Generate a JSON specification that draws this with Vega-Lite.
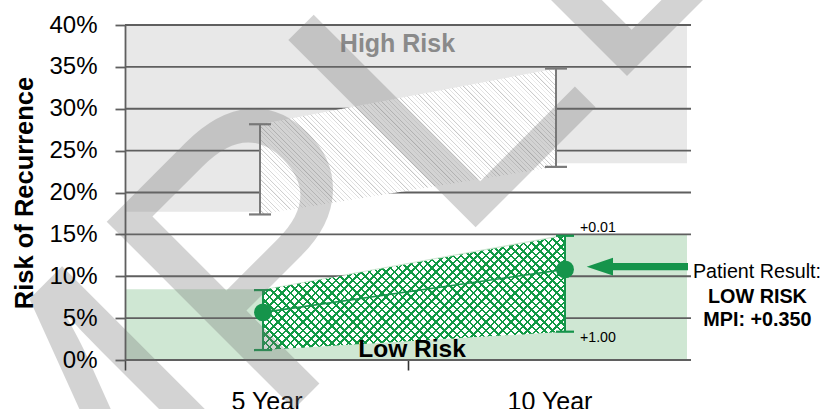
{
"$schema": "https://vega.github.io/schema/vega-lite/v6.json",
"width": 566,
"height": 335,
"autosize": {"type": "none"},
"padding": {"left": 125, "top": 25, "right": 133, "bottom": 49},
"background": "white",
"config": {"view": {"stroke": null}, "font": "Liberation Sans", "axisY": {"grid": false}},
"datasets": {
"grayBand": [{"t": 2.7196, "lo": 17.7, "hi": 40}, {"t": 5, "lo": 17.7, "hi": 40}, {"t": 10, "lo": 23.5, "hi": 40}, {"t": 12.213, "lo": 23.5, "hi": 40}],
"greenBand": [{"t": 2.7152, "lo": 0, "hi": 8.44}, {"t": 5, "lo": 0, "hi": 8.44}, {"t": 10, "lo": 0, "hi": 15}, {"t": 12.02, "lo": 0, "hi": 15}],
"grid": [{"g": 0}, {"g": 5}, {"g": 10}, {"g": 15}, {"g": 20}, {"g": 25}, {"g": 30}, {"g": 35}, {"g": 40}],
"gray": [{"t": 5, "lo": 17.38, "hi": 28.15}, {"t": 10, "lo": 23.06, "hi": 34.8}],
"green": [{"t": 5, "lo": 1.19, "hi": 8.35, "mid": 5.69}, {"t": 10, "lo": 3.38, "hi": 14.83, "mid": 10.82}],
"notes": [
{"label": "High Risk", "x": 7.314, "y": 36.78},
{"label": "Low Risk", "x": 7.571, "y": 0.36},
{"label": "Patient Result:", "x": 12.535, "y": 9.79},
{"label": "LOW RISK", "x": 13.674, "y": 6.84},
{"label": "MPI: +0.350", "x": 13.674, "y": 4.06},
{"label": "+0.01", "x": 10.539, "y": 15.25},
{"label": "+1.00", "x": 10.539, "y": 2.15}
],
"arrow": [{"head": 10.889, "from": 11.0, "to": 12.447, "y": 11.14}],
"wm": [{"label": "SAMPLE", "x": 4.426, "y": -13.01}]
},
"layer": [
{"data": {"name": "grayBand"}, "mark": {"type": "area", "color": "#e8e8e8", "opacity": 1, "orient": "vertical"},
 "encoding": {"x": {"field": "t", "type": "quantitative", "scale": {"domain": [2.7196, 12.2804], "nice": false, "zero": false}, "axis": null},
 "y": {"field": "hi", "type": "quantitative", "scale": {"domain": [0, 40], "nice": false},
 "axis": {"values": [0, 5, 10, 15, 20, 25, 30, 35, 40], "labelExpr": "datum.value + '%'", "labelFontSize": 24, "labelColor": "#000", "labelPadding": 18, "tickSize": 10, "tickColor": "#5f5f5f", "tickWidth": 1.8, "domainColor": "#5f5f5f", "domainWidth": 1.8, "grid": false, "title": "Risk of Recurrence", "titleFontSize": 25.5, "titleFontWeight": "bold", "titleColor": "#000", "titlePadding": 11.5, "zindex": 1}},
 "y2": {"field": "lo"}}},
{"data": {"name": "greenBand"}, "mark": {"type": "area", "color": "#cfe7d3", "opacity": 1, "orient": "vertical"},
 "encoding": {"x": {"field": "t", "type": "quantitative", "scale": {"domain": [2.7152, 12.0861], "nice": false, "zero": false}, "axis": null},
 "y": {"field": "hi", "type": "quantitative", "scale": {"domain": [0, 40], "nice": false}}, "y2": {"field": "lo"}}},
{"data": {"name": "grid"}, "mark": {"type": "rule", "color": "#5f5f5f", "strokeWidth": 1.8},
 "encoding": {"y": {"field": "g", "type": "quantitative", "scale": {"domain": [0, 40], "nice": false}}}},
{"data": {"name": "gray"}, "mark": {"type": "area", "opacity": 1, "orient": "vertical", "fill": {"gradient": "linear", "x1": 0, "y1": 1, "x2": 1.2011, "y2": 0.408, "stops": [
{"offset":0,"color":"#c4c4c4"},{"offset":0.003,"color":"#fff"},{"offset":0.01,"color":"#fff"},
{"offset":0.01,"color":"#c4c4c4"},{"offset":0.013,"color":"#fff"},{"offset":0.02,"color":"#fff"},
{"offset":0.02,"color":"#c4c4c4"},{"offset":0.023,"color":"#fff"},{"offset":0.03,"color":"#fff"},
{"offset":0.03,"color":"#c4c4c4"},{"offset":0.033,"color":"#fff"},{"offset":0.04,"color":"#fff"},
{"offset":0.04,"color":"#c4c4c4"},{"offset":0.043,"color":"#fff"},{"offset":0.05,"color":"#fff"},
{"offset":0.05,"color":"#c4c4c4"},{"offset":0.053,"color":"#fff"},{"offset":0.06,"color":"#fff"},
{"offset":0.06,"color":"#c4c4c4"},{"offset":0.063,"color":"#fff"},{"offset":0.07,"color":"#fff"},
{"offset":0.07,"color":"#c4c4c4"},{"offset":0.073,"color":"#fff"},{"offset":0.08,"color":"#fff"},
{"offset":0.08,"color":"#c4c4c4"},{"offset":0.083,"color":"#fff"},{"offset":0.09,"color":"#fff"},
{"offset":0.09,"color":"#c4c4c4"},{"offset":0.093,"color":"#fff"},{"offset":0.1,"color":"#fff"},
{"offset":0.1,"color":"#c4c4c4"},{"offset":0.103,"color":"#fff"},{"offset":0.11,"color":"#fff"},
{"offset":0.11,"color":"#c4c4c4"},{"offset":0.113,"color":"#fff"},{"offset":0.12,"color":"#fff"},
{"offset":0.12,"color":"#c4c4c4"},{"offset":0.123,"color":"#fff"},{"offset":0.13,"color":"#fff"},
{"offset":0.13,"color":"#c4c4c4"},{"offset":0.133,"color":"#fff"},{"offset":0.14,"color":"#fff"},
{"offset":0.14,"color":"#c4c4c4"},{"offset":0.143,"color":"#fff"},{"offset":0.15,"color":"#fff"},
{"offset":0.15,"color":"#c4c4c4"},{"offset":0.153,"color":"#fff"},{"offset":0.16,"color":"#fff"},
{"offset":0.16,"color":"#c4c4c4"},{"offset":0.163,"color":"#fff"},{"offset":0.17,"color":"#fff"},
{"offset":0.17,"color":"#c4c4c4"},{"offset":0.173,"color":"#fff"},{"offset":0.18,"color":"#fff"},
{"offset":0.18,"color":"#c4c4c4"},{"offset":0.183,"color":"#fff"},{"offset":0.19,"color":"#fff"},
{"offset":0.19,"color":"#c4c4c4"},{"offset":0.193,"color":"#fff"},{"offset":0.2,"color":"#fff"},
{"offset":0.2,"color":"#c4c4c4"},{"offset":0.203,"color":"#fff"},{"offset":0.21,"color":"#fff"},
{"offset":0.21,"color":"#c4c4c4"},{"offset":0.213,"color":"#fff"},{"offset":0.22,"color":"#fff"},
{"offset":0.22,"color":"#c4c4c4"},{"offset":0.223,"color":"#fff"},{"offset":0.23,"color":"#fff"},
{"offset":0.23,"color":"#c4c4c4"},{"offset":0.233,"color":"#fff"},{"offset":0.24,"color":"#fff"},
{"offset":0.24,"color":"#c4c4c4"},{"offset":0.243,"color":"#fff"},{"offset":0.25,"color":"#fff"},
{"offset":0.25,"color":"#c4c4c4"},{"offset":0.253,"color":"#fff"},{"offset":0.26,"color":"#fff"},
{"offset":0.26,"color":"#c4c4c4"},{"offset":0.263,"color":"#fff"},{"offset":0.27,"color":"#fff"},
{"offset":0.27,"color":"#c4c4c4"},{"offset":0.273,"color":"#fff"},{"offset":0.28,"color":"#fff"},
{"offset":0.28,"color":"#c4c4c4"},{"offset":0.283,"color":"#fff"},{"offset":0.29,"color":"#fff"},
{"offset":0.29,"color":"#c4c4c4"},{"offset":0.293,"color":"#fff"},{"offset":0.3,"color":"#fff"},
{"offset":0.3,"color":"#c4c4c4"},{"offset":0.303,"color":"#fff"},{"offset":0.31,"color":"#fff"},
{"offset":0.31,"color":"#c4c4c4"},{"offset":0.313,"color":"#fff"},{"offset":0.32,"color":"#fff"},
{"offset":0.32,"color":"#c4c4c4"},{"offset":0.323,"color":"#fff"},{"offset":0.33,"color":"#fff"},
{"offset":0.33,"color":"#c4c4c4"},{"offset":0.333,"color":"#fff"},{"offset":0.34,"color":"#fff"},
{"offset":0.34,"color":"#c4c4c4"},{"offset":0.343,"color":"#fff"},{"offset":0.35,"color":"#fff"},
{"offset":0.35,"color":"#c4c4c4"},{"offset":0.353,"color":"#fff"},{"offset":0.36,"color":"#fff"},
{"offset":0.36,"color":"#c4c4c4"},{"offset":0.363,"color":"#fff"},{"offset":0.37,"color":"#fff"},
{"offset":0.37,"color":"#c4c4c4"},{"offset":0.373,"color":"#fff"},{"offset":0.38,"color":"#fff"},
{"offset":0.38,"color":"#c4c4c4"},{"offset":0.383,"color":"#fff"},{"offset":0.39,"color":"#fff"},
{"offset":0.39,"color":"#c4c4c4"},{"offset":0.393,"color":"#fff"},{"offset":0.4,"color":"#fff"},
{"offset":0.4,"color":"#c4c4c4"},{"offset":0.403,"color":"#fff"},{"offset":0.41,"color":"#fff"},
{"offset":0.41,"color":"#c4c4c4"},{"offset":0.413,"color":"#fff"},{"offset":0.42,"color":"#fff"},
{"offset":0.42,"color":"#c4c4c4"},{"offset":0.423,"color":"#fff"},{"offset":0.43,"color":"#fff"},
{"offset":0.43,"color":"#c4c4c4"},{"offset":0.433,"color":"#fff"},{"offset":0.44,"color":"#fff"},
{"offset":0.44,"color":"#c4c4c4"},{"offset":0.443,"color":"#fff"},{"offset":0.45,"color":"#fff"},
{"offset":0.45,"color":"#c4c4c4"},{"offset":0.453,"color":"#fff"},{"offset":0.46,"color":"#fff"},
{"offset":0.46,"color":"#c4c4c4"},{"offset":0.463,"color":"#fff"},{"offset":0.47,"color":"#fff"},
{"offset":0.47,"color":"#c4c4c4"},{"offset":0.473,"color":"#fff"},{"offset":0.48,"color":"#fff"},
{"offset":0.48,"color":"#c4c4c4"},{"offset":0.483,"color":"#fff"},{"offset":0.49,"color":"#fff"},
{"offset":0.49,"color":"#c4c4c4"},{"offset":0.493,"color":"#fff"},{"offset":0.5,"color":"#fff"},
{"offset":0.5,"color":"#c4c4c4"},{"offset":0.503,"color":"#fff"},{"offset":0.51,"color":"#fff"},
{"offset":0.51,"color":"#c4c4c4"},{"offset":0.513,"color":"#fff"},{"offset":0.52,"color":"#fff"},
{"offset":0.52,"color":"#c4c4c4"},{"offset":0.523,"color":"#fff"},{"offset":0.53,"color":"#fff"},
{"offset":0.53,"color":"#c4c4c4"},{"offset":0.533,"color":"#fff"},{"offset":0.54,"color":"#fff"},
{"offset":0.54,"color":"#c4c4c4"},{"offset":0.543,"color":"#fff"},{"offset":0.55,"color":"#fff"},
{"offset":0.55,"color":"#c4c4c4"},{"offset":0.553,"color":"#fff"},{"offset":0.56,"color":"#fff"},
{"offset":0.56,"color":"#c4c4c4"},{"offset":0.563,"color":"#fff"},{"offset":0.57,"color":"#fff"},
{"offset":0.57,"color":"#c4c4c4"},{"offset":0.573,"color":"#fff"},{"offset":0.58,"color":"#fff"},
{"offset":0.58,"color":"#c4c4c4"},{"offset":0.583,"color":"#fff"},{"offset":0.59,"color":"#fff"},
{"offset":0.59,"color":"#c4c4c4"},{"offset":0.593,"color":"#fff"},{"offset":0.6,"color":"#fff"},
{"offset":0.6,"color":"#c4c4c4"},{"offset":0.603,"color":"#fff"},{"offset":0.61,"color":"#fff"},
{"offset":0.61,"color":"#c4c4c4"},{"offset":0.613,"color":"#fff"},{"offset":0.62,"color":"#fff"},
{"offset":0.62,"color":"#c4c4c4"},{"offset":0.623,"color":"#fff"},{"offset":0.63,"color":"#fff"},
{"offset":0.63,"color":"#c4c4c4"},{"offset":0.633,"color":"#fff"},{"offset":0.64,"color":"#fff"},
{"offset":0.64,"color":"#c4c4c4"},{"offset":0.643,"color":"#fff"},{"offset":0.65,"color":"#fff"},
{"offset":0.65,"color":"#c4c4c4"},{"offset":0.653,"color":"#fff"},{"offset":0.66,"color":"#fff"},
{"offset":0.66,"color":"#c4c4c4"},{"offset":0.663,"color":"#fff"},{"offset":0.67,"color":"#fff"},
{"offset":0.67,"color":"#c4c4c4"},{"offset":0.673,"color":"#fff"},{"offset":0.68,"color":"#fff"},
{"offset":0.68,"color":"#c4c4c4"},{"offset":0.683,"color":"#fff"},{"offset":0.69,"color":"#fff"},
{"offset":0.69,"color":"#c4c4c4"},{"offset":0.693,"color":"#fff"},{"offset":0.7,"color":"#fff"},
{"offset":0.7,"color":"#c4c4c4"},{"offset":0.703,"color":"#fff"},{"offset":0.71,"color":"#fff"},
{"offset":0.71,"color":"#c4c4c4"},{"offset":0.713,"color":"#fff"},{"offset":0.72,"color":"#fff"},
{"offset":0.72,"color":"#c4c4c4"},{"offset":0.723,"color":"#fff"},{"offset":0.73,"color":"#fff"},
{"offset":0.73,"color":"#c4c4c4"},{"offset":0.733,"color":"#fff"},{"offset":0.74,"color":"#fff"},
{"offset":0.74,"color":"#c4c4c4"},{"offset":0.743,"color":"#fff"},{"offset":0.75,"color":"#fff"},
{"offset":0.75,"color":"#c4c4c4"},{"offset":0.753,"color":"#fff"},{"offset":0.76,"color":"#fff"},
{"offset":0.76,"color":"#c4c4c4"},{"offset":0.763,"color":"#fff"},{"offset":0.77,"color":"#fff"},
{"offset":0.77,"color":"#c4c4c4"},{"offset":0.773,"color":"#fff"},{"offset":0.78,"color":"#fff"},
{"offset":0.78,"color":"#c4c4c4"},{"offset":0.783,"color":"#fff"},{"offset":0.79,"color":"#fff"},
{"offset":0.79,"color":"#c4c4c4"},{"offset":0.793,"color":"#fff"},{"offset":0.8,"color":"#fff"},
{"offset":0.8,"color":"#c4c4c4"},{"offset":0.803,"color":"#fff"},{"offset":0.81,"color":"#fff"},
{"offset":0.81,"color":"#c4c4c4"},{"offset":0.813,"color":"#fff"},{"offset":0.82,"color":"#fff"},
{"offset":0.82,"color":"#c4c4c4"},{"offset":0.823,"color":"#fff"},{"offset":0.83,"color":"#fff"},
{"offset":0.83,"color":"#c4c4c4"},{"offset":0.833,"color":"#fff"},{"offset":0.84,"color":"#fff"},
{"offset":0.84,"color":"#c4c4c4"},{"offset":0.843,"color":"#fff"},{"offset":0.85,"color":"#fff"},
{"offset":0.85,"color":"#c4c4c4"},{"offset":0.853,"color":"#fff"},{"offset":0.86,"color":"#fff"},
{"offset":0.86,"color":"#c4c4c4"},{"offset":0.863,"color":"#fff"},{"offset":0.87,"color":"#fff"},
{"offset":0.87,"color":"#c4c4c4"},{"offset":0.873,"color":"#fff"},{"offset":0.88,"color":"#fff"},
{"offset":0.88,"color":"#c4c4c4"},{"offset":0.883,"color":"#fff"},{"offset":0.89,"color":"#fff"},
{"offset":0.89,"color":"#c4c4c4"},{"offset":0.893,"color":"#fff"},{"offset":0.9,"color":"#fff"},
{"offset":0.9,"color":"#c4c4c4"},{"offset":0.903,"color":"#fff"},{"offset":0.91,"color":"#fff"},
{"offset":0.91,"color":"#c4c4c4"},{"offset":0.913,"color":"#fff"},{"offset":0.92,"color":"#fff"},
{"offset":0.92,"color":"#c4c4c4"},{"offset":0.923,"color":"#fff"},{"offset":0.93,"color":"#fff"},
{"offset":0.93,"color":"#c4c4c4"},{"offset":0.933,"color":"#fff"},{"offset":0.94,"color":"#fff"},
{"offset":0.94,"color":"#c4c4c4"},{"offset":0.943,"color":"#fff"},{"offset":0.95,"color":"#fff"},
{"offset":0.95,"color":"#c4c4c4"},{"offset":0.953,"color":"#fff"},{"offset":0.96,"color":"#fff"},
{"offset":0.96,"color":"#c4c4c4"},{"offset":0.963,"color":"#fff"},{"offset":0.97,"color":"#fff"},
{"offset":0.97,"color":"#c4c4c4"},{"offset":0.973,"color":"#fff"},{"offset":0.98,"color":"#fff"},
{"offset":0.98,"color":"#c4c4c4"},{"offset":0.983,"color":"#fff"},{"offset":0.99,"color":"#fff"},
{"offset":0.99,"color":"#c4c4c4"},{"offset":0.993,"color":"#fff"},{"offset":1,"color":"#fff"}
]}},
 "encoding": {"x": {"field": "t", "type": "quantitative", "scale": {"domain": [2.7196, 12.2804], "nice": false, "zero": false}, "axis": null},
 "y": {"field": "hi", "type": "quantitative", "scale": {"domain": [0, 40], "nice": false}}, "y2": {"field": "lo"}}},
{"data": {"name": "green"}, "mark": {"type": "area", "opacity": 1, "orient": "vertical", "fill": {"gradient": "linear", "x1": 0, "y1": 1, "x2": 1.2057, "y2": 0.5441, "stops": [
{"offset":0,"color":"#194"},{"offset":0.006,"color":"#194"},{"offset":0.006,"color":"#fff"},{"offset":0.02,"color":"#fff"},
{"offset":0.02,"color":"#194"},{"offset":0.026,"color":"#194"},{"offset":0.026,"color":"#fff"},{"offset":0.04,"color":"#fff"},
{"offset":0.04,"color":"#194"},{"offset":0.046,"color":"#194"},{"offset":0.046,"color":"#fff"},{"offset":0.06,"color":"#fff"},
{"offset":0.06,"color":"#194"},{"offset":0.066,"color":"#194"},{"offset":0.066,"color":"#fff"},{"offset":0.08,"color":"#fff"},
{"offset":0.08,"color":"#194"},{"offset":0.086,"color":"#194"},{"offset":0.086,"color":"#fff"},{"offset":0.1,"color":"#fff"},
{"offset":0.1,"color":"#194"},{"offset":0.106,"color":"#194"},{"offset":0.106,"color":"#fff"},{"offset":0.12,"color":"#fff"},
{"offset":0.12,"color":"#194"},{"offset":0.126,"color":"#194"},{"offset":0.126,"color":"#fff"},{"offset":0.14,"color":"#fff"},
{"offset":0.14,"color":"#194"},{"offset":0.146,"color":"#194"},{"offset":0.146,"color":"#fff"},{"offset":0.16,"color":"#fff"},
{"offset":0.16,"color":"#194"},{"offset":0.166,"color":"#194"},{"offset":0.166,"color":"#fff"},{"offset":0.18,"color":"#fff"},
{"offset":0.18,"color":"#194"},{"offset":0.186,"color":"#194"},{"offset":0.186,"color":"#fff"},{"offset":0.2,"color":"#fff"},
{"offset":0.2,"color":"#194"},{"offset":0.206,"color":"#194"},{"offset":0.206,"color":"#fff"},{"offset":0.22,"color":"#fff"},
{"offset":0.22,"color":"#194"},{"offset":0.226,"color":"#194"},{"offset":0.226,"color":"#fff"},{"offset":0.24,"color":"#fff"},
{"offset":0.24,"color":"#194"},{"offset":0.246,"color":"#194"},{"offset":0.246,"color":"#fff"},{"offset":0.26,"color":"#fff"},
{"offset":0.26,"color":"#194"},{"offset":0.266,"color":"#194"},{"offset":0.266,"color":"#fff"},{"offset":0.28,"color":"#fff"},
{"offset":0.28,"color":"#194"},{"offset":0.286,"color":"#194"},{"offset":0.286,"color":"#fff"},{"offset":0.3,"color":"#fff"},
{"offset":0.3,"color":"#194"},{"offset":0.306,"color":"#194"},{"offset":0.306,"color":"#fff"},{"offset":0.32,"color":"#fff"},
{"offset":0.32,"color":"#194"},{"offset":0.326,"color":"#194"},{"offset":0.326,"color":"#fff"},{"offset":0.34,"color":"#fff"},
{"offset":0.34,"color":"#194"},{"offset":0.346,"color":"#194"},{"offset":0.346,"color":"#fff"},{"offset":0.36,"color":"#fff"},
{"offset":0.36,"color":"#194"},{"offset":0.366,"color":"#194"},{"offset":0.366,"color":"#fff"},{"offset":0.38,"color":"#fff"},
{"offset":0.38,"color":"#194"},{"offset":0.386,"color":"#194"},{"offset":0.386,"color":"#fff"},{"offset":0.4,"color":"#fff"},
{"offset":0.4,"color":"#194"},{"offset":0.406,"color":"#194"},{"offset":0.406,"color":"#fff"},{"offset":0.42,"color":"#fff"},
{"offset":0.42,"color":"#194"},{"offset":0.426,"color":"#194"},{"offset":0.426,"color":"#fff"},{"offset":0.44,"color":"#fff"},
{"offset":0.44,"color":"#194"},{"offset":0.446,"color":"#194"},{"offset":0.446,"color":"#fff"},{"offset":0.46,"color":"#fff"},
{"offset":0.46,"color":"#194"},{"offset":0.466,"color":"#194"},{"offset":0.466,"color":"#fff"},{"offset":0.48,"color":"#fff"},
{"offset":0.48,"color":"#194"},{"offset":0.486,"color":"#194"},{"offset":0.486,"color":"#fff"},{"offset":0.5,"color":"#fff"},
{"offset":0.5,"color":"#194"},{"offset":0.506,"color":"#194"},{"offset":0.506,"color":"#fff"},{"offset":0.52,"color":"#fff"},
{"offset":0.52,"color":"#194"},{"offset":0.526,"color":"#194"},{"offset":0.526,"color":"#fff"},{"offset":0.54,"color":"#fff"},
{"offset":0.54,"color":"#194"},{"offset":0.546,"color":"#194"},{"offset":0.546,"color":"#fff"},{"offset":0.56,"color":"#fff"},
{"offset":0.56,"color":"#194"},{"offset":0.566,"color":"#194"},{"offset":0.566,"color":"#fff"},{"offset":0.58,"color":"#fff"},
{"offset":0.58,"color":"#194"},{"offset":0.586,"color":"#194"},{"offset":0.586,"color":"#fff"},{"offset":0.6,"color":"#fff"},
{"offset":0.6,"color":"#194"},{"offset":0.606,"color":"#194"},{"offset":0.606,"color":"#fff"},{"offset":0.62,"color":"#fff"},
{"offset":0.62,"color":"#194"},{"offset":0.626,"color":"#194"},{"offset":0.626,"color":"#fff"},{"offset":0.64,"color":"#fff"},
{"offset":0.64,"color":"#194"},{"offset":0.646,"color":"#194"},{"offset":0.646,"color":"#fff"},{"offset":0.66,"color":"#fff"},
{"offset":0.66,"color":"#194"},{"offset":0.666,"color":"#194"},{"offset":0.666,"color":"#fff"},{"offset":0.68,"color":"#fff"},
{"offset":0.68,"color":"#194"},{"offset":0.686,"color":"#194"},{"offset":0.686,"color":"#fff"},{"offset":0.7,"color":"#fff"},
{"offset":0.7,"color":"#194"},{"offset":0.706,"color":"#194"},{"offset":0.706,"color":"#fff"},{"offset":0.72,"color":"#fff"},
{"offset":0.72,"color":"#194"},{"offset":0.726,"color":"#194"},{"offset":0.726,"color":"#fff"},{"offset":0.74,"color":"#fff"},
{"offset":0.74,"color":"#194"},{"offset":0.746,"color":"#194"},{"offset":0.746,"color":"#fff"},{"offset":0.76,"color":"#fff"},
{"offset":0.76,"color":"#194"},{"offset":0.766,"color":"#194"},{"offset":0.766,"color":"#fff"},{"offset":0.78,"color":"#fff"},
{"offset":0.78,"color":"#194"},{"offset":0.786,"color":"#194"},{"offset":0.786,"color":"#fff"},{"offset":0.8,"color":"#fff"},
{"offset":0.8,"color":"#194"},{"offset":0.806,"color":"#194"},{"offset":0.806,"color":"#fff"},{"offset":0.82,"color":"#fff"},
{"offset":0.82,"color":"#194"},{"offset":0.826,"color":"#194"},{"offset":0.826,"color":"#fff"},{"offset":0.84,"color":"#fff"},
{"offset":0.84,"color":"#194"},{"offset":0.846,"color":"#194"},{"offset":0.846,"color":"#fff"},{"offset":0.86,"color":"#fff"},
{"offset":0.86,"color":"#194"},{"offset":0.866,"color":"#194"},{"offset":0.866,"color":"#fff"},{"offset":0.88,"color":"#fff"},
{"offset":0.88,"color":"#194"},{"offset":0.886,"color":"#194"},{"offset":0.886,"color":"#fff"},{"offset":0.9,"color":"#fff"},
{"offset":0.9,"color":"#194"},{"offset":0.906,"color":"#194"},{"offset":0.906,"color":"#fff"},{"offset":0.92,"color":"#fff"},
{"offset":0.92,"color":"#194"},{"offset":0.926,"color":"#194"},{"offset":0.926,"color":"#fff"},{"offset":0.94,"color":"#fff"},
{"offset":0.94,"color":"#194"},{"offset":0.946,"color":"#194"},{"offset":0.946,"color":"#fff"},{"offset":0.96,"color":"#fff"},
{"offset":0.96,"color":"#194"},{"offset":0.966,"color":"#194"},{"offset":0.966,"color":"#fff"},{"offset":0.98,"color":"#fff"},
{"offset":0.98,"color":"#194"},{"offset":0.986,"color":"#194"},{"offset":0.986,"color":"#fff"},{"offset":1,"color":"#fff"}
]}},
 "encoding": {"x": {"field": "t", "type": "quantitative", "scale": {"domain": [2.7152, 12.0861], "nice": false, "zero": false}, "axis": null},
 "y": {"field": "hi", "type": "quantitative", "scale": {"domain": [0, 40], "nice": false}}, "y2": {"field": "lo"}}},
{"data": {"name": "green"}, "mark": {"type": "area", "opacity": 1, "orient": "vertical", "fill": {"gradient": "linear", "x1": 0, "y1": 0, "x2": 1.2057, "y2": 0.4559, "stops": [
{"offset":0,"color":"#194"},{"offset":0.006,"color":"#194"},{"offset":0.006,"color":"transparent"},{"offset":0.02,"color":"transparent"},
{"offset":0.02,"color":"#194"},{"offset":0.026,"color":"#194"},{"offset":0.026,"color":"transparent"},{"offset":0.04,"color":"transparent"},
{"offset":0.04,"color":"#194"},{"offset":0.046,"color":"#194"},{"offset":0.046,"color":"transparent"},{"offset":0.06,"color":"transparent"},
{"offset":0.06,"color":"#194"},{"offset":0.066,"color":"#194"},{"offset":0.066,"color":"transparent"},{"offset":0.08,"color":"transparent"},
{"offset":0.08,"color":"#194"},{"offset":0.086,"color":"#194"},{"offset":0.086,"color":"transparent"},{"offset":0.1,"color":"transparent"},
{"offset":0.1,"color":"#194"},{"offset":0.106,"color":"#194"},{"offset":0.106,"color":"transparent"},{"offset":0.12,"color":"transparent"},
{"offset":0.12,"color":"#194"},{"offset":0.126,"color":"#194"},{"offset":0.126,"color":"transparent"},{"offset":0.14,"color":"transparent"},
{"offset":0.14,"color":"#194"},{"offset":0.146,"color":"#194"},{"offset":0.146,"color":"transparent"},{"offset":0.16,"color":"transparent"},
{"offset":0.16,"color":"#194"},{"offset":0.166,"color":"#194"},{"offset":0.166,"color":"transparent"},{"offset":0.18,"color":"transparent"},
{"offset":0.18,"color":"#194"},{"offset":0.186,"color":"#194"},{"offset":0.186,"color":"transparent"},{"offset":0.2,"color":"transparent"},
{"offset":0.2,"color":"#194"},{"offset":0.206,"color":"#194"},{"offset":0.206,"color":"transparent"},{"offset":0.22,"color":"transparent"},
{"offset":0.22,"color":"#194"},{"offset":0.226,"color":"#194"},{"offset":0.226,"color":"transparent"},{"offset":0.24,"color":"transparent"},
{"offset":0.24,"color":"#194"},{"offset":0.246,"color":"#194"},{"offset":0.246,"color":"transparent"},{"offset":0.26,"color":"transparent"},
{"offset":0.26,"color":"#194"},{"offset":0.266,"color":"#194"},{"offset":0.266,"color":"transparent"},{"offset":0.28,"color":"transparent"},
{"offset":0.28,"color":"#194"},{"offset":0.286,"color":"#194"},{"offset":0.286,"color":"transparent"},{"offset":0.3,"color":"transparent"},
{"offset":0.3,"color":"#194"},{"offset":0.306,"color":"#194"},{"offset":0.306,"color":"transparent"},{"offset":0.32,"color":"transparent"},
{"offset":0.32,"color":"#194"},{"offset":0.326,"color":"#194"},{"offset":0.326,"color":"transparent"},{"offset":0.34,"color":"transparent"},
{"offset":0.34,"color":"#194"},{"offset":0.346,"color":"#194"},{"offset":0.346,"color":"transparent"},{"offset":0.36,"color":"transparent"},
{"offset":0.36,"color":"#194"},{"offset":0.366,"color":"#194"},{"offset":0.366,"color":"transparent"},{"offset":0.38,"color":"transparent"},
{"offset":0.38,"color":"#194"},{"offset":0.386,"color":"#194"},{"offset":0.386,"color":"transparent"},{"offset":0.4,"color":"transparent"},
{"offset":0.4,"color":"#194"},{"offset":0.406,"color":"#194"},{"offset":0.406,"color":"transparent"},{"offset":0.42,"color":"transparent"},
{"offset":0.42,"color":"#194"},{"offset":0.426,"color":"#194"},{"offset":0.426,"color":"transparent"},{"offset":0.44,"color":"transparent"},
{"offset":0.44,"color":"#194"},{"offset":0.446,"color":"#194"},{"offset":0.446,"color":"transparent"},{"offset":0.46,"color":"transparent"},
{"offset":0.46,"color":"#194"},{"offset":0.466,"color":"#194"},{"offset":0.466,"color":"transparent"},{"offset":0.48,"color":"transparent"},
{"offset":0.48,"color":"#194"},{"offset":0.486,"color":"#194"},{"offset":0.486,"color":"transparent"},{"offset":0.5,"color":"transparent"},
{"offset":0.5,"color":"#194"},{"offset":0.506,"color":"#194"},{"offset":0.506,"color":"transparent"},{"offset":0.52,"color":"transparent"},
{"offset":0.52,"color":"#194"},{"offset":0.526,"color":"#194"},{"offset":0.526,"color":"transparent"},{"offset":0.54,"color":"transparent"},
{"offset":0.54,"color":"#194"},{"offset":0.546,"color":"#194"},{"offset":0.546,"color":"transparent"},{"offset":0.56,"color":"transparent"},
{"offset":0.56,"color":"#194"},{"offset":0.566,"color":"#194"},{"offset":0.566,"color":"transparent"},{"offset":0.58,"color":"transparent"},
{"offset":0.58,"color":"#194"},{"offset":0.586,"color":"#194"},{"offset":0.586,"color":"transparent"},{"offset":0.6,"color":"transparent"},
{"offset":0.6,"color":"#194"},{"offset":0.606,"color":"#194"},{"offset":0.606,"color":"transparent"},{"offset":0.62,"color":"transparent"},
{"offset":0.62,"color":"#194"},{"offset":0.626,"color":"#194"},{"offset":0.626,"color":"transparent"},{"offset":0.64,"color":"transparent"},
{"offset":0.64,"color":"#194"},{"offset":0.646,"color":"#194"},{"offset":0.646,"color":"transparent"},{"offset":0.66,"color":"transparent"},
{"offset":0.66,"color":"#194"},{"offset":0.666,"color":"#194"},{"offset":0.666,"color":"transparent"},{"offset":0.68,"color":"transparent"},
{"offset":0.68,"color":"#194"},{"offset":0.686,"color":"#194"},{"offset":0.686,"color":"transparent"},{"offset":0.7,"color":"transparent"},
{"offset":0.7,"color":"#194"},{"offset":0.706,"color":"#194"},{"offset":0.706,"color":"transparent"},{"offset":0.72,"color":"transparent"},
{"offset":0.72,"color":"#194"},{"offset":0.726,"color":"#194"},{"offset":0.726,"color":"transparent"},{"offset":0.74,"color":"transparent"},
{"offset":0.74,"color":"#194"},{"offset":0.746,"color":"#194"},{"offset":0.746,"color":"transparent"},{"offset":0.76,"color":"transparent"},
{"offset":0.76,"color":"#194"},{"offset":0.766,"color":"#194"},{"offset":0.766,"color":"transparent"},{"offset":0.78,"color":"transparent"},
{"offset":0.78,"color":"#194"},{"offset":0.786,"color":"#194"},{"offset":0.786,"color":"transparent"},{"offset":0.8,"color":"transparent"},
{"offset":0.8,"color":"#194"},{"offset":0.806,"color":"#194"},{"offset":0.806,"color":"transparent"},{"offset":0.82,"color":"transparent"},
{"offset":0.82,"color":"#194"},{"offset":0.826,"color":"#194"},{"offset":0.826,"color":"transparent"},{"offset":0.84,"color":"transparent"},
{"offset":0.84,"color":"#194"},{"offset":0.846,"color":"#194"},{"offset":0.846,"color":"transparent"},{"offset":0.86,"color":"transparent"},
{"offset":0.86,"color":"#194"},{"offset":0.866,"color":"#194"},{"offset":0.866,"color":"transparent"},{"offset":0.88,"color":"transparent"},
{"offset":0.88,"color":"#194"},{"offset":0.886,"color":"#194"},{"offset":0.886,"color":"transparent"},{"offset":0.9,"color":"transparent"},
{"offset":0.9,"color":"#194"},{"offset":0.906,"color":"#194"},{"offset":0.906,"color":"transparent"},{"offset":0.92,"color":"transparent"},
{"offset":0.92,"color":"#194"},{"offset":0.926,"color":"#194"},{"offset":0.926,"color":"transparent"},{"offset":0.94,"color":"transparent"},
{"offset":0.94,"color":"#194"},{"offset":0.946,"color":"#194"},{"offset":0.946,"color":"transparent"},{"offset":0.96,"color":"transparent"},
{"offset":0.96,"color":"#194"},{"offset":0.966,"color":"#194"},{"offset":0.966,"color":"transparent"},{"offset":0.98,"color":"transparent"},
{"offset":0.98,"color":"#194"},{"offset":0.986,"color":"#194"},{"offset":0.986,"color":"transparent"},{"offset":1,"color":"transparent"}
]}},
 "encoding": {"x": {"field": "t", "type": "quantitative", "scale": {"domain": [2.7152, 12.0861], "nice": false, "zero": false}, "axis": null},
 "y": {"field": "hi", "type": "quantitative", "scale": {"domain": [0, 40], "nice": false}}, "y2": {"field": "lo"}}},
{"data": {"name": "gray"}, "mark": {"type": "rule", "color": "#7a7a7a", "strokeWidth": 2},
 "encoding": {"x": {"field": "t", "type": "quantitative", "scale": {"domain": [2.7196, 12.2804], "nice": false, "zero": false}, "axis": null},
 "y": {"field": "lo", "type": "quantitative", "scale": {"domain": [0, 40], "nice": false}}, "y2": {"field": "hi"}}},
{"data": {"name": "gray"}, "transform": [{"fold": ["lo", "hi"], "as": ["end", "v"]}],
 "mark": {"type": "tick", "orient": "horizontal", "size": 22, "thickness": 2.2, "color": "#7a7a7a", "opacity": 1},
 "encoding": {"x": {"field": "t", "type": "quantitative", "scale": {"domain": [2.7196, 12.2804], "nice": false, "zero": false}, "axis": null},
 "y": {"field": "v", "type": "quantitative", "scale": {"domain": [0, 40], "nice": false}}}},
{"data": {"name": "green"}, "mark": {"type": "line", "color": "#15944b", "strokeWidth": 1.6},
 "encoding": {"x": {"field": "t", "type": "quantitative", "scale": {"domain": [2.7152, 12.0861], "nice": false, "zero": false}, "axis": null},
 "y": {"field": "mid", "type": "quantitative", "scale": {"domain": [0, 40], "nice": false}}}},
{"data": {"name": "green"}, "mark": {"type": "rule", "color": "#15944b", "strokeWidth": 2},
 "encoding": {"x": {"field": "t", "type": "quantitative", "scale": {"domain": [2.7152, 12.0861], "nice": false, "zero": false}, "axis": null},
 "y": {"field": "lo", "type": "quantitative", "scale": {"domain": [0, 40], "nice": false}}, "y2": {"field": "hi"}}},
{"data": {"name": "green"}, "transform": [{"fold": ["lo", "hi"], "as": ["end", "v"]}],
 "mark": {"type": "tick", "orient": "horizontal", "size": 18, "thickness": 2.2, "color": "#15944b", "opacity": 1},
 "encoding": {"x": {"field": "t", "type": "quantitative", "scale": {"domain": [2.7152, 12.0861], "nice": false, "zero": false}, "axis": null},
 "y": {"field": "v", "type": "quantitative", "scale": {"domain": [0, 40], "nice": false}}}},
{"data": {"name": "green"}, "mark": {"type": "circle", "size": 320, "color": "#15944b", "opacity": 1},
 "encoding": {"x": {"field": "t", "type": "quantitative", "scale": {"domain": [2.7152, 12.0861], "nice": false, "zero": false}, "axis": null},
 "y": {"field": "mid", "type": "quantitative", "scale": {"domain": [0, 40], "nice": false}}}},
{"data": {"name": "arrow"}, "mark": {"type": "rule", "color": "#15944b", "strokeWidth": 7.3},
 "encoding": {"x": {"field": "from", "type": "quantitative", "scale": {"domain": [2.5, 12.5], "nice": false, "zero": false}, "axis": null}, "x2": {"field": "to"},
 "y": {"field": "y", "type": "quantitative", "scale": {"domain": [0, 40], "nice": false}}}},
{"data": {"name": "arrow"}, "mark": {"type": "point", "shape": "M-1,0L1,-0.673L1,0.673Z", "filled": true, "size": 692, "color": "#15944b", "opacity": 1, "strokeWidth": 0},
 "encoding": {"x": {"field": "head", "type": "quantitative", "scale": {"domain": [2.5, 12.5], "nice": false, "zero": false}, "axis": null},
 "y": {"field": "y", "type": "quantitative", "scale": {"domain": [0, 40], "nice": false}}}},
{"data": {"name": "notes"}, "transform": [{"filter": {"field": "label", "equal": "High Risk"}}],
 "mark": {"type": "text", "fontSize": 25, "fontWeight": "bold", "color": "#8a8a8a", "align": "center", "baseline": "alphabetic"},
 "encoding": {"text": {"field": "label"},
 "x": {"field": "x", "type": "quantitative", "scale": {"domain": [2.5, 12.5], "nice": false, "zero": false},
 "axis": {"values": [2.5, 5, 7.5, 10], "labelExpr": "datum.value == 5 ? '5 Year' : datum.value == 10 ? '10 Year' : ''", "labelFontSize": 25, "labelColor": "#000", "labelPadding": 19, "labelFlush": false, "labelOverlap": false, "labelBound": false, "tickSize": 10, "tickColor": "#333", "tickWidth": 1.6, "tickOpacity": {"condition": {"test": "datum.value == 5 || datum.value == 10", "value": 0}, "value": 1}, "domain": false, "grid": false, "title": null}},
 "y": {"field": "y", "type": "quantitative", "scale": {"domain": [0, 40], "nice": false}}}},
{"data": {"name": "notes"}, "transform": [{"filter": {"field": "label", "equal": "Low Risk"}}],
 "mark": {"type": "text", "fontSize": 24.5, "fontWeight": "bold", "color": "#000", "align": "center", "baseline": "alphabetic"},
 "encoding": {"text": {"field": "label"},
 "x": {"field": "x", "type": "quantitative", "scale": {"domain": [2.5, 12.5], "nice": false, "zero": false}, "axis": null},
 "y": {"field": "y", "type": "quantitative", "scale": {"domain": [0, 40], "nice": false}}}},
{"data": {"name": "notes"}, "transform": [{"filter": {"field": "label", "equal": "Patient Result:"}}],
 "mark": {"type": "text", "fontSize": 19.7, "color": "#000", "align": "left", "baseline": "alphabetic"},
 "encoding": {"text": {"field": "label"},
 "x": {"field": "x", "type": "quantitative", "scale": {"domain": [2.5, 12.5], "nice": false, "zero": false}, "axis": null},
 "y": {"field": "y", "type": "quantitative", "scale": {"domain": [0, 40], "nice": false}}}},
{"data": {"name": "notes"}, "transform": [{"filter": {"field": "label", "oneOf": ["LOW RISK", "MPI: +0.350"]}}],
 "mark": {"type": "text", "fontSize": 19.8, "fontWeight": "bold", "color": "#000", "align": "center", "baseline": "alphabetic"},
 "encoding": {"text": {"field": "label"},
 "x": {"field": "x", "type": "quantitative", "scale": {"domain": [2.5, 12.5], "nice": false, "zero": false}, "axis": null},
 "y": {"field": "y", "type": "quantitative", "scale": {"domain": [0, 40], "nice": false}}}},
{"data": {"name": "notes"}, "transform": [{"filter": {"field": "label", "oneOf": ["+0.01", "+1.00"]}}],
 "mark": {"type": "text", "fontSize": 14.2, "color": "#000", "align": "left", "baseline": "alphabetic"},
 "encoding": {"text": {"field": "label"},
 "x": {"field": "x", "type": "quantitative", "scale": {"domain": [2.5, 12.5], "nice": false, "zero": false}, "axis": null},
 "y": {"field": "y", "type": "quantitative", "scale": {"domain": [0, 40], "nice": false}}}},
{"data": {"name": "wm"}, "mark": {"type": "text", "fontSize": 385, "angle": 315, "color": "#717171", "opacity": 0.3, "align": "center", "baseline": "alphabetic"},
 "encoding": {"text": {"field": "label"},
 "x": {"field": "x", "type": "quantitative", "scale": {"domain": [2.5, 12.5], "nice": false, "zero": false}, "axis": null},
 "y": {"field": "y", "type": "quantitative", "scale": {"domain": [0, 40], "nice": false}}}}
],
"resolve": {"scale": {"x": "independent"}}
}
